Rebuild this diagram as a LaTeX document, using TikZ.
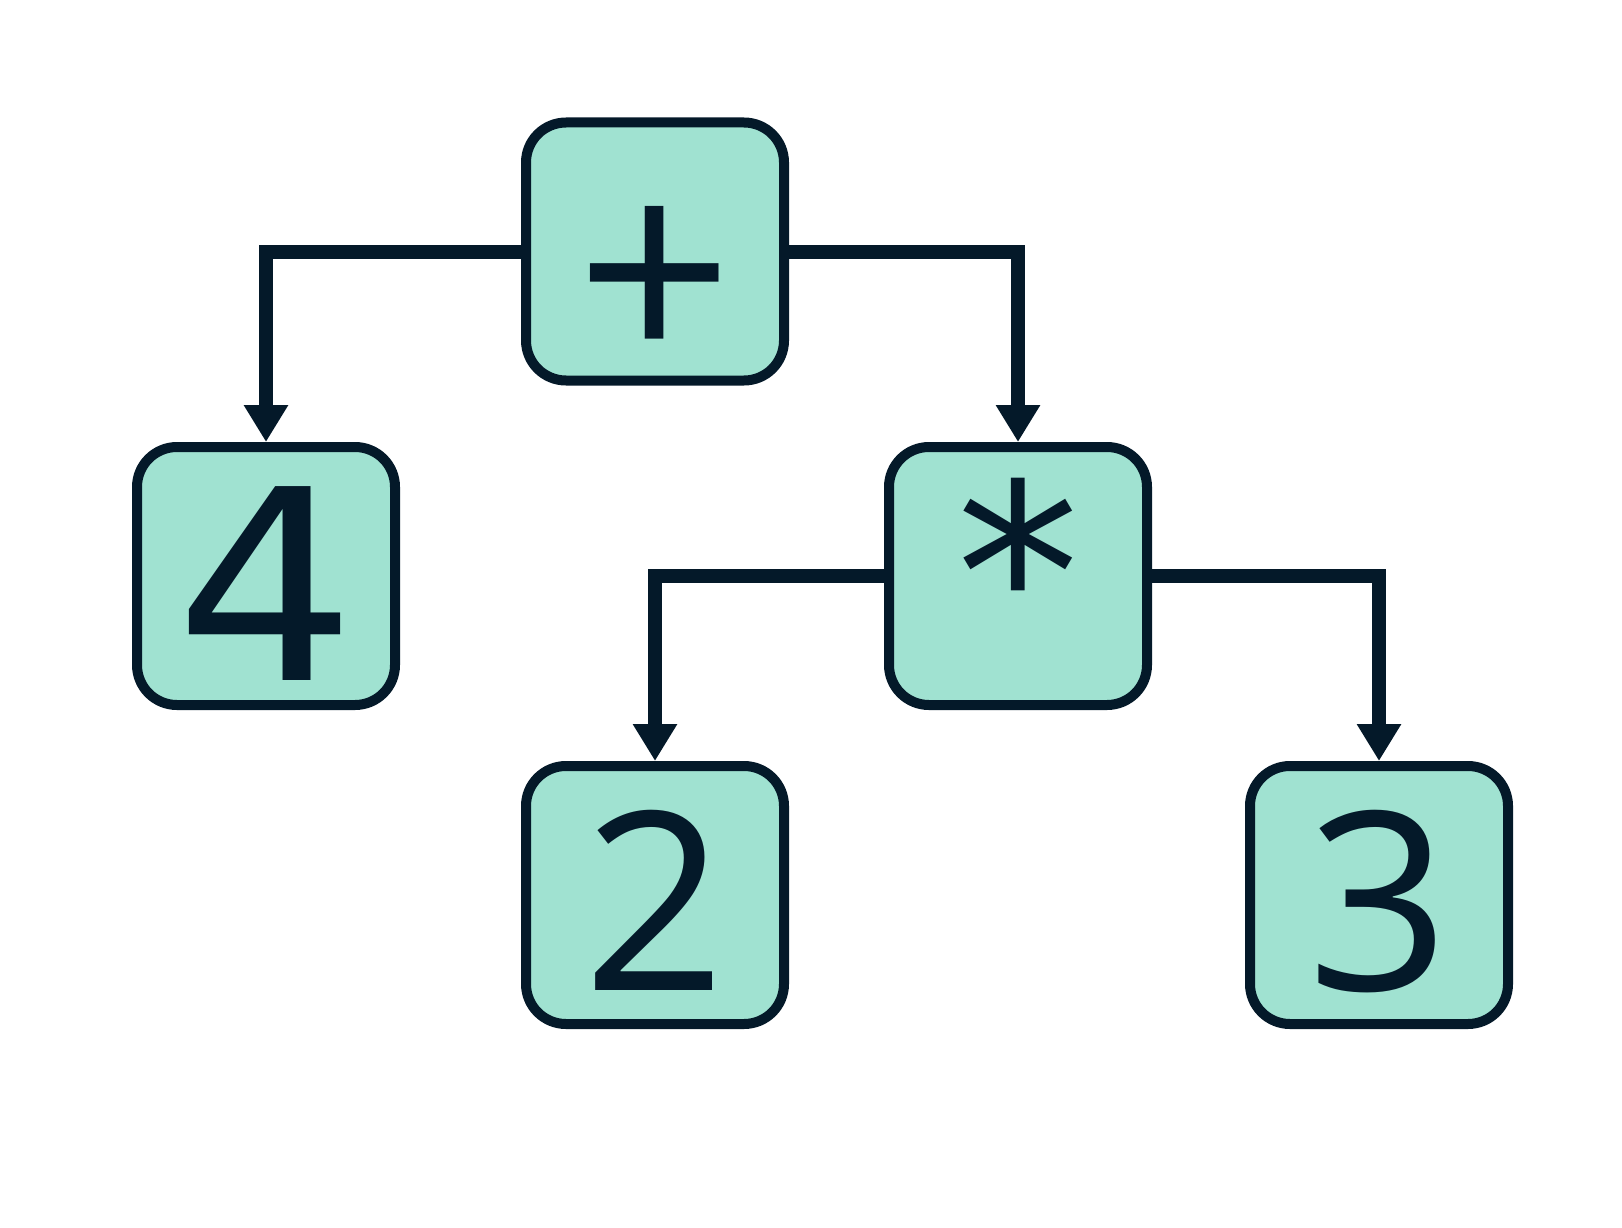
\documentclass[tikz,border=0pt]{standalone}
\usepackage{fontspec}
\setmainfont{Open Sans}
\newfontfamily\dejavu{DejaVu Sans}
\usetikzlibrary{arrows.meta}
\definecolor{boxfill}{RGB}{160,226,209}
\definecolor{ink}{RGB}{4,25,41}
\begin{document}
\begin{tikzpicture}[x=1pt,y=-1pt,
  opbox/.style={draw=ink, fill=boxfill, line width=10pt, rounded corners=40pt,
    minimum width=258pt, minimum height=258pt, inner sep=0pt,
    text=ink, text height=190pt, text depth=0pt,
    font=\fontsize{249}{260}\selectfont},
  link/.style={draw=ink, line width=14pt, -{Triangle[length=37pt,width=42pt]}}]
\useasboundingbox (0,0) rectangle (1622,1228);
\node[opbox, text height=236pt, font=\fontsize{274}{280}\selectfont] (plus) at (655,251.5) {+};
\node[opbox, text height=208pt, font=\dejavu\fontsize{266}{280}\selectfont] (four) at (266,576) {\scalebox{1.07}[1]{4}};
\node[opbox, text height=171pt, font=\dejavu\fontsize{247}{260}\selectfont] (times) at (1018,576) {*};
\node[opbox] (two) at (655,895) {2};
\node[opbox] (three) at (1379,895) {3};
\draw[link] (plus.west) -| (four.north);
\draw[link] (plus.east) -| (times.north);
\draw[link] (times.west) -| (two.north);
\draw[link] (times.east) -| (three.north);
\end{tikzpicture}
\end{document}
